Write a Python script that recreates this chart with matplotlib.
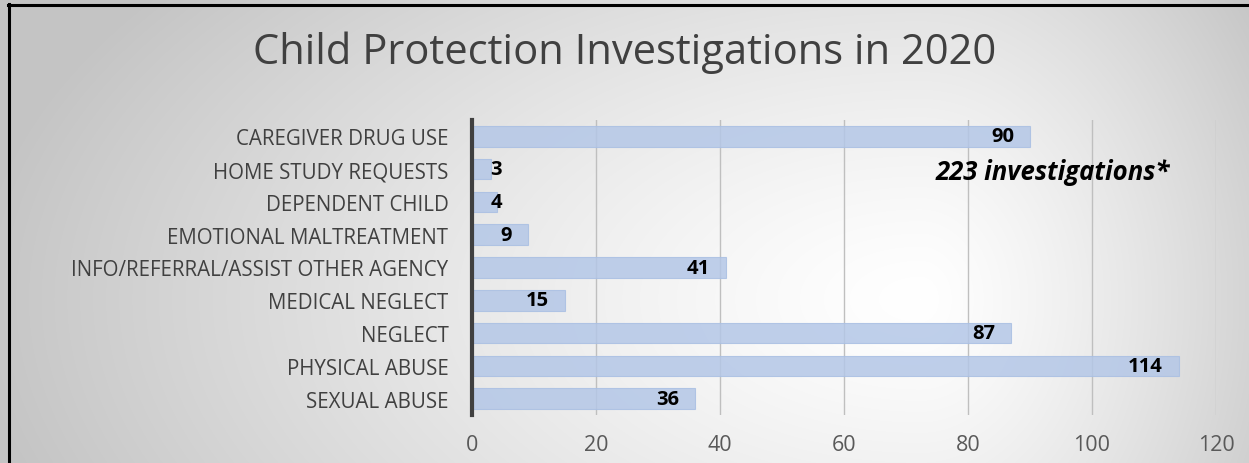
import numpy as np
import matplotlib
matplotlib.use("Agg")
import matplotlib.pyplot as plt
from matplotlib.lines import Line2D

categories = ["CAREGIVER DRUG USE", "HOME STUDY REQUESTS", "DEPENDENT CHILD",
              "EMOTIONAL MALTREATMENT", "INFO/REFERRAL/ASSIST OTHER AGENCY",
              "MEDICAL NEGLECT", "NEGLECT", "PHYSICAL ABUSE", "SEXUAL ABUSE"]
values = [90, 3, 4, 9, 41, 15, 87, 114, 36]
xticks = [0, 20, 40, 60, 80, 100, 120]
title = "Child Protection Investigations in 2020"
note = "223 investigations*"

FONT = "Open Sans"
W, H = 1249, 464
fig = plt.figure(figsize=(W / 100, H / 100), dpi=100)

# background gradient
bg = fig.add_axes([0, 0, 1, 1])
yy, xx = np.mgrid[0:H, 0:W]
cx, cy = 920.0, 300.0
rx = np.where(xx < cx, 950.0, 420.0)
ry = 520.0
d = np.sqrt(((xx - cx) / rx) ** 2 + ((yy - cy) / ry) ** 2)
d = np.clip(d, 0, 1)
v = 1.0 - 0.23 * d ** 1.3
img = np.dstack([v, v, v])
bg.imshow(img, extent=[0, W, H, 0], aspect="auto", interpolation="bilinear")
bg.set_xlim(0, W)
bg.set_ylim(H, 0)
bg.axis("off")
# border lines (left and top)
bg.add_line(Line2D([9, 9], [5, H], color="black", lw=2.2))
bg.add_line(Line2D([8, W], [6, 6], color="black", lw=2.2))

ax = fig.add_axes([472 / W, 48 / H, (1216 - 472) / W, (416 - 121) / H])
ax.patch.set_alpha(0)
y = np.arange(len(categories))
ax.barh(y, values, height=0.63, color="#b4c7e7", alpha=0.85,
        edgecolor="#a9bfe3", linewidth=0.8, zorder=3)
ax.set_ylim(len(categories) - 0.5, -0.5)
ax.set_xlim(0, 120)
ax.set_xticks(xticks)
ax.set_xticklabels([str(t) for t in xticks], fontsize=15.5, color="#595959", family=FONT)
ax.set_yticks(y)
ax.set_yticklabels(categories, fontsize=14.8, color="#404040", family=FONT)
ax.tick_params(axis="x", length=0, pad=14)
ax.tick_params(axis="y", length=0, pad=17)
for s in ["top", "right", "bottom"]:
    ax.spines[s].set_visible(False)
ax.spines["left"].set_linewidth(3)
ax.spines["left"].set_color("#404040")
ax.spines["left"].set_zorder(5)
ax.grid(axis="x", color="#bfbfbf", lw=1, zorder=1)
ax.set_axisbelow(True)

for yi, val in zip(y, values):
    xr = max(val - 2.6, 4.8)
    ax.text(xr, yi, str(val), ha="right", va="center", fontsize=14.5,
            fontweight="bold", color="black", family=FONT, zorder=6)

fig.text(625 / W, 1 - 64 / H, title, ha="center", va="baseline", fontsize=30,
         color="#404040", family=FONT)
fig.text(1053 / W, 1 - 172 / H, note, ha="center", va="center", fontsize=18.5,
         fontweight="bold", style="italic", color="black", family=FONT)

fig.savefig("out.png", dpi=100)
